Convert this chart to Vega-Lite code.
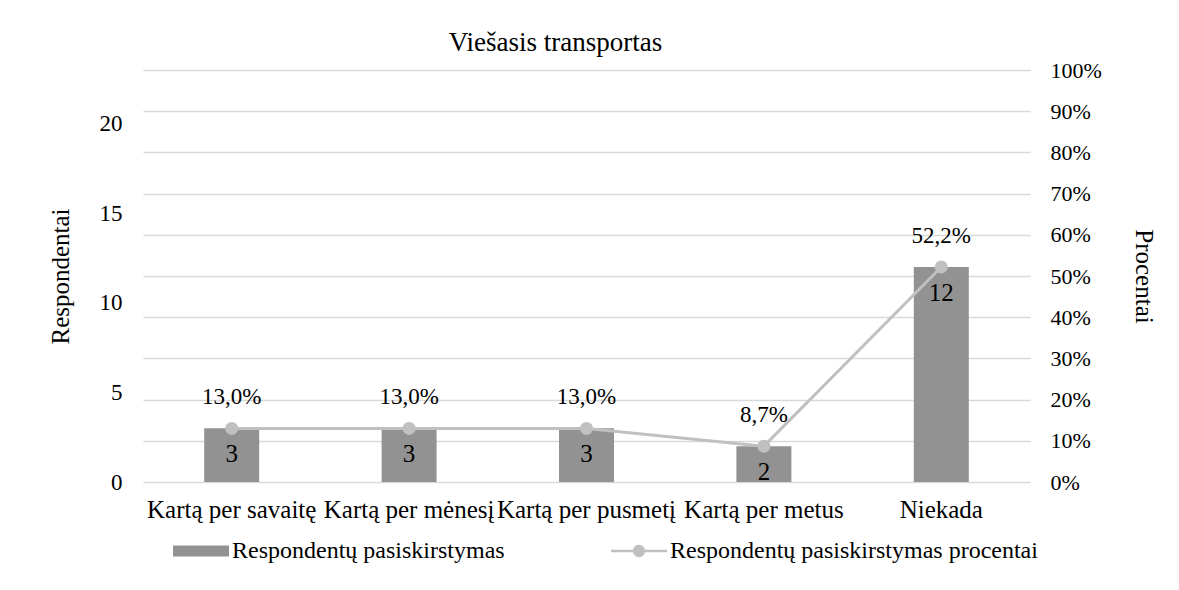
{
  "$schema": "https://vega.github.io/schema/vega-lite/v6.json",
  "autosize": "none",
  "width": 887,
  "height": 412,
  "padding": {"left": 143, "top": 70, "right": 149, "bottom": 108},
  "background": "white",
  "config": {
    "view": {"stroke": null},
    "font": "Liberation Serif",
    "locale": {"number": {"decimal": ",", "thousands": "\u00a0", "grouping": [3], "currency": ["", " €"], "percent": "%"}},
    "axis": {"labelFont": "Liberation Serif", "titleFont": "Liberation Serif", "labelFontSize": 22, "titleFontSize": 25, "labelColor": "#000", "titleColor": "#000", "titleFontWeight": "normal", "ticks": false, "domain": false}
  },
  "title": {"text": "Viešasis transportas", "fontSize": 27, "font": "Liberation Serif", "fontWeight": "normal", "color": "#000", "anchor": "middle", "dx": -31, "offset": 2},
  "data": {"values": [
    {"kategorija": "Kartą per savaitę", "respondentai": 3, "procentai": 0.130},
    {"kategorija": "Kartą per mėnesį", "respondentai": 3, "procentai": 0.130},
    {"kategorija": "Kartą per pusmetį", "respondentai": 3, "procentai": 0.130},
    {"kategorija": "Kartą per metus", "respondentai": 2, "procentai": 0.087},
    {"kategorija": "Niekada", "respondentai": 12, "procentai": 0.522}
  ]},
  "encoding": {
    "x": {"field": "kategorija", "type": "nominal", "sort": null,
      "scale": {"paddingInner": 0.69, "paddingOuter": 0.345},
      "axis": {"title": null, "labelAngle": 0, "labelPadding": 15, "labelFontSize": 25, "grid": false}}
  },
  "layer": [
    {
      "encoding": {
        "y": {"field": "respondentai", "type": "quantitative",
          "scale": {"domain": [0, 23], "nice": false},
          "axis": {"orient": "left", "title": "Respondentai", "values": [0, 5, 10, 15, 20], "grid": false, "labelPadding": 21, "labelFontSize": 23, "titleX": -70}}
      },
      "layer": [
        {"mark": {"type": "bar", "color": "#929292"},
          "encoding": {"color": {"datum": "Respondentų pasiskirstymas", "type": "nominal",
            "scale": {"domain": ["Respondentų pasiskirstymas", "Respondentų pasiskirstymas procentai"], "range": ["#929292", "#c0c0c0"]},
            "legend": {"title": null, "orient": "none", "legendX": 30, "legendY": 453, "direction": "horizontal", "labelFontSize": 24, "labelFont": "Liberation Serif", "labelColor": "#000", "labelLimit": 500, "symbolSize": 3136, "columnPadding": 106, "labelOffset": 3,
              "encode": {"symbols": {"update": {
                "shape": {"signal": "datum.value === 'Respondentų pasiskirstymas' ? 'M-1,-0.2H1V0.2H-1Z' : 'M-1,-0.045H1V0.045H-1Z M-0.22,0A0.22,0.22 0 1,1 0.22,0A0.22,0.22 0 1,1 -0.22,0Z'"},
                "fill": {"signal": "datum.value === 'Respondentų pasiskirstymas' ? '#929292' : '#c0c0c0'"},
                "stroke": {"value": "transparent"},
                "strokeWidth": {"value": 0},
                "opacity": {"value": 1}
              }}}}}}},
        {"mark": {"type": "text", "baseline": "middle", "dy": 26, "fontSize": 25, "color": "#000"},
          "encoding": {"text": {"field": "respondentai", "type": "quantitative"}}}
      ]
    },
    {
      "encoding": {
        "y": {"field": "procentai", "type": "quantitative",
          "scale": {"domain": [0, 1], "nice": false},
          "axis": {"orient": "right", "title": "Procentai", "values": [0, 0.1, 0.2, 0.3, 0.4, 0.5, 0.6, 0.7, 0.8, 0.9, 1], "format": ".0%", "grid": true, "gridColor": "#d9d9d9", "gridWidth": 1.5, "labelPadding": 20, "titleX": 100}}
      },
      "layer": [
        {"mark": {"type": "line", "strokeWidth": 3, "point": {"filled": true, "size": 170, "opacity": 1}},
          "encoding": {"color": {"datum": "Respondentų pasiskirstymas procentai", "type": "nominal"}}},
        {"mark": {"type": "text", "baseline": "middle", "dy": -31, "fontSize": 23, "color": "#000"},
          "encoding": {"text": {"field": "procentai", "type": "quantitative", "format": ".1%"}}}
      ]
    }
  ],
  "resolve": {"scale": {"y": "independent"}}
}
